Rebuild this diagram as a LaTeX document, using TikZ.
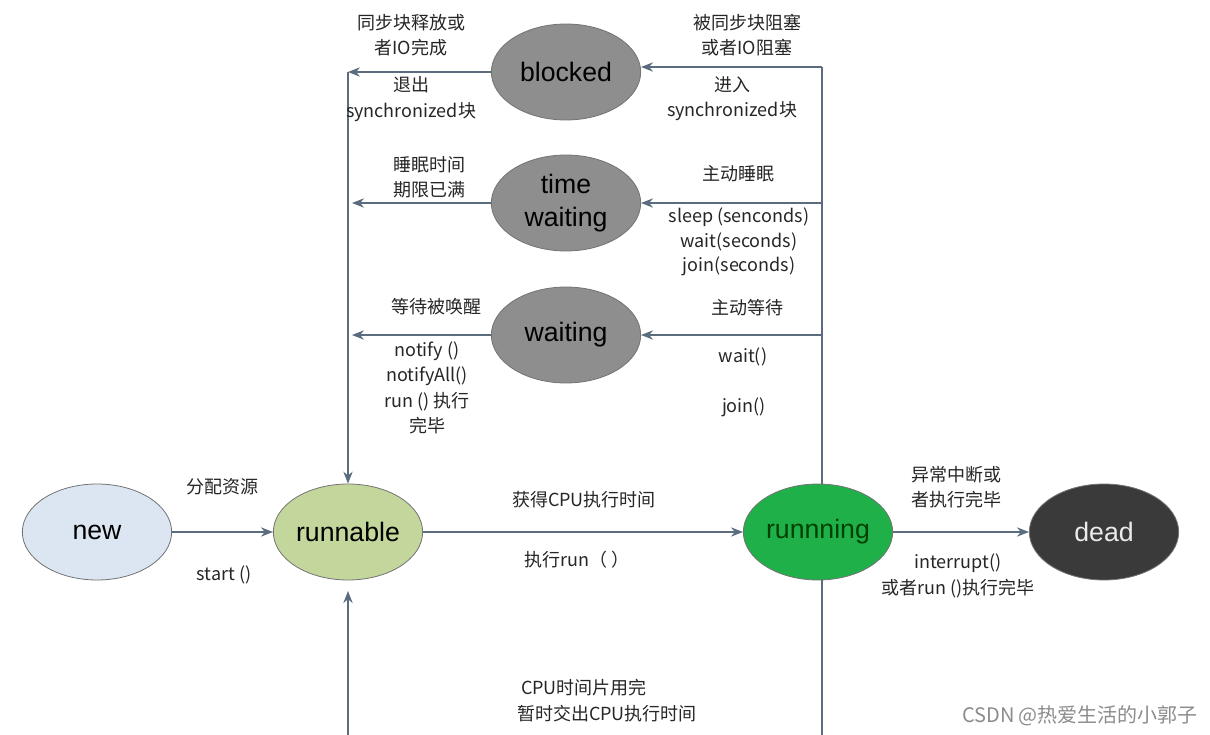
\documentclass[tikz,border=0pt]{standalone}
\usepackage{fontspec}
\setmainfont{Liberation Sans}
\newfontfamily\cjk{Noto Sans CJK SC}
\usepackage{xcolor}
\usepackage{tikz}
\usetikzlibrary{arrows.meta, positioning, shapes.geometric}

\definecolor{lineC}{HTML}{5A6C7E}
\definecolor{newC}{HTML}{DCE6F2}
\definecolor{runnableC}{HTML}{C3D69B}
\definecolor{runningC}{HTML}{1FB04A}
\definecolor{deadC}{HTML}{3A3A3A}
\definecolor{waitC}{HTML}{8E8E8E}

\tikzset{
  state/.style={ellipse, draw=black!55, line width=0.6pt, minimum width=112pt,
    minimum height=72pt, inner sep=0pt, align=center,
    font=\fontsize{20}{25}\selectfont},
  trans/.style={draw=lineC, line width=0.9pt, -{Stealth[length=9pt,width=7pt]}},
  rail/.style={draw=lineC, line width=0.9pt},
  lbl/.style={font=\cjk\fontsize{13.5}{19}\selectfont, align=center, text=black!85}
}

\begin{document}
\begin{tikzpicture}[x=0.75pt,y=-0.75pt]
  \useasboundingbox (0,0) rectangle (1210,735);
  \fill[white] (0,0) rectangle (1210,735);

  % states
  \node[state, fill=newC]      (new)      at (97,532)   {new};
  \node[state, fill=runnableC] (runnable) at (348,532)  {runnable};
  \node[state, fill=runningC, text=black!75!green] (running) at (818,532) {runnning};
  \node[state, fill=deadC, text=white!92!black]    (dead)    at (1104,532) {dead};
  \node[state, fill=waitC]     (blocked)  at (566,72)   {blocked};
  \node[state, fill=waitC]     (timed)    at (566,203)  {time\\waiting};
  \node[state, fill=waitC]     (waiting)  at (566,335)  {waiting};

  % rails
  \coordinate (railL) at (348,72);
  \coordinate (railR) at (822,67);
  \coordinate (botL)  at (348,735);
  \coordinate (botR)  at (822,735);

  \draw[trans] (new) -- (runnable);
  \draw[trans] (runnable) -- (running);
  \draw[trans] (running) -- (dead);

  \draw[trans] (railL) -- (runnable.north);
  \draw[trans] (blocked.west) -- (railL);
  \draw[trans, shorten >=3pt] (timed.west) -- (timed -| railL);
  \draw[trans, shorten >=3pt] (waiting.west) -- (waiting -| railL);

  \draw[rail] (railR |- running.north) -- (railR);
  \draw[trans] (railR) -- (railR -| blocked.east);
  \draw[trans] (railR |- timed) -- (timed.east);
  \draw[trans] (railR |- waiting) -- (waiting.east);

  \draw[trans, shorten >=8pt] (botL) -- (runnable.south);
  \draw[rail] (botR |- running.south) -- (botR);

  % labels
  \node[lbl] (lAlloc)   at (222,487) {分配资源};
  \node[lbl] (lStart)   at (224,575) {start ()};
  \node[lbl] (lGetCpu)  at (584,500) {获得CPU执行时间};
  \node[lbl] (lRun)     at (577,560) {执行run（ ）};
  \node[lbl] (lAbort)   at (956,487) {异常中断或\\者执行完毕};
  \node[lbl] (lInter)   at (958,576) {interrupt()\\或者run ()执行完毕};
  \node[lbl] (lRelease) at (411,35)  {同步块释放或\\者IO完成};
  \node[lbl] (lExit)    at (411,99)  {退出\\synchronized块};
  \node[lbl] (lBlock)   at (747,35)  {被同步块阻塞\\或者IO阻塞};
  \node[lbl] (lEnter)   at (732,99)  {进入\\synchronized块};
  \node[lbl] (lTimeUp)  at (429,177) {睡眠时间\\期限已满};
  \node[lbl] (lSleep)   at (738,174) {主动睡眠};
  \node[lbl, font=\cjk\fontsize{13.5}{18.5}\selectfont] (lSleepFn) at (739,242)
    {sleep (senconds)\\wait(seconds)\\join(seconds)};
  \node[lbl] (lWake)    at (436,307) {等待被唤醒};
  \node[lbl] (lNotify)  at (427,388) {notify ()\\notifyAll()\\run () 执行\\完毕};
  \node[lbl] (lWaitAct) at (747,308) {主动等待};
  \node[lbl] (lWaitFn)  at (743,357) {wait()};
  \node[lbl] (lJoinFn)  at (744,407) {join()};
  \node[lbl] (lSlice)   at (584,688) {CPU时间片用完};
  \node[lbl] (lYield)   at (607,714) {暂时交出CPU执行时间};
  \node[lbl, text=black!45, font=\cjk\fontsize{15}{18}\selectfont] (mark) at (1080,716)
    {CSDN @热爱生活的小郭子};
\end{tikzpicture}
\end{document}
